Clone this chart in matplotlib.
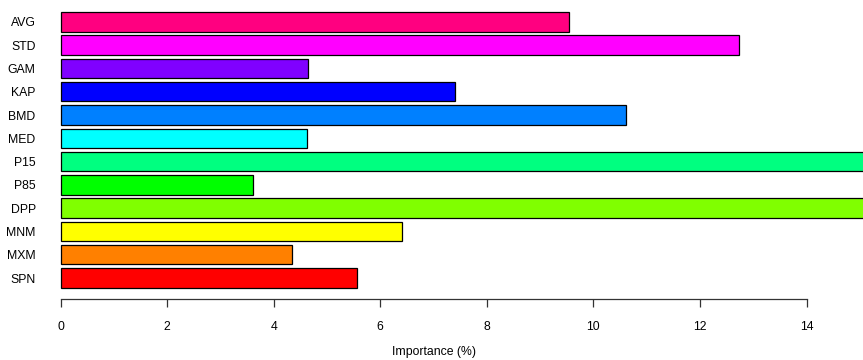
import matplotlib
matplotlib.use("Agg")
from matplotlib import pyplot as plt

plt.rcParams['font.family'] = ['Liberation Sans', 'DejaVu Sans']

# variable importance, top to bottom
var_names = ['AVG', 'STD', 'GAM', 'KAP', 'BMD', 'MED', 'P15', 'P85', 'DPP', 'MNM', 'MXM', 'SPN']
importance = [9.55, 12.74, 4.65, 7.40, 10.62, 4.62, 16.5, 3.62, 15.8, 6.40, 4.35, 5.57]
bar_colors = ['#FF0080', '#FF00FF', '#8000FF', '#0000FF', '#0080FF', '#00FFFF',
              '#00FF80', '#00FF00', '#80FF00', '#FFFF00', '#FF8000', '#FF0000']
x_ticks = [0, 2, 4, 6, 8, 10, 12, 14]

W, H = 863, 360
fig = plt.figure(figsize=(W / 100, H / 100), dpi=100)
# axes placed in pixel terms: x 0..14 -> px 60.5..806.5, bottom spine at px 299
ax = fig.add_axes([60.5 / W, (H - 299) / H, 746 / W, 299 / H])

ypos = list(range(len(var_names)))
bars = ax.barh(ypos, importance, height=0.833, color=bar_colors,
               edgecolor='black', linewidth=0.9)
for b in bars:
    b.set_clip_on(False)

ax.set_xlim(0, 14)
ax.set_ylim(11.90, -0.941)

for s in ['top', 'right', 'left']:
    ax.spines[s].set_visible(False)
ax.spines['bottom'].set_bounds(0, 14)
ax.spines['bottom'].set_color('#333333')
ax.spines['bottom'].set_linewidth(0.9)

fs = 8.8
ax.set_xticks(x_ticks)
ax.set_xticklabels([str(t) for t in x_ticks])
ax.tick_params(axis='x', length=5.5, width=0.9, color='#333333', pad=10, labelsize=fs)
ax.set_yticks(ypos)
ax.set_yticklabels(var_names)
ax.tick_params(axis='y', length=0, pad=17.9, labelsize=fs)

fig.text(433.5 / W, 1 - 352.5 / H, 'Importance (%)', ha='center', va='center', fontsize=fs)

fig.savefig('out.png', dpi=100)
